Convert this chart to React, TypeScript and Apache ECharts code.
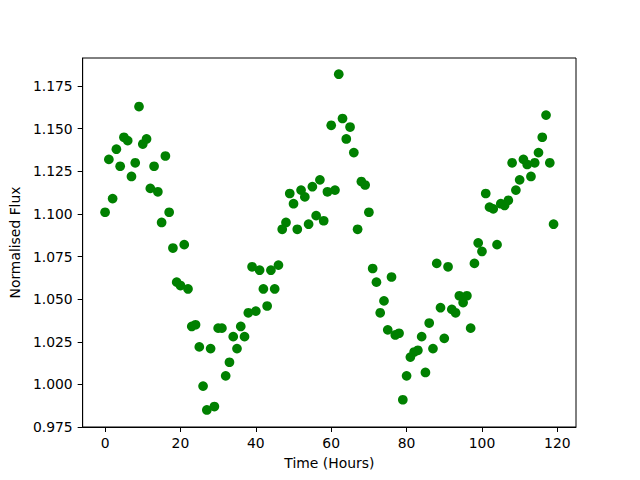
import React, { useEffect, useRef } from "react";
import * as echarts from "echarts";

const hours: number[] = Array.from({ length: 120 }, (_, i) => i);
const flux: number[] = [
  1.101, 1.132, 1.109, 1.138, 1.128, 1.145, 1.143, 1.122, 1.130, 1.163,
  1.141, 1.144, 1.115, 1.128, 1.113, 1.095, 1.134, 1.101, 1.080, 1.060,
  1.058, 1.082, 1.056, 1.034, 1.035, 1.022, 0.999, 0.985, 1.021, 0.987,
  1.033, 1.033, 1.005, 1.013, 1.028, 1.021, 1.034, 1.028, 1.042, 1.069,
  1.043, 1.067, 1.056, 1.046, 1.067, 1.056, 1.070, 1.091, 1.095, 1.112,
  1.106, 1.091, 1.114, 1.110, 1.094, 1.116, 1.099, 1.120, 1.096, 1.113,
  1.152, 1.114, 1.182, 1.156, 1.144, 1.151, 1.136, 1.091, 1.119, 1.117,
  1.101, 1.068, 1.060, 1.042, 1.049, 1.032, 1.063, 1.029, 1.030, 0.991,
  1.005, 1.016, 1.019, 1.020, 1.028, 1.007, 1.036, 1.021, 1.071, 1.045,
  1.027, 1.069, 1.044, 1.042, 1.052, 1.048, 1.052, 1.033, 1.071, 1.083,
  1.078, 1.112, 1.104, 1.103, 1.082, 1.106, 1.105, 1.108, 1.130, 1.114,
  1.120, 1.132, 1.129, 1.122, 1.130, 1.136, 1.145, 1.158, 1.130, 1.094,
];
const xTicks: number[] = [0, 20, 40, 60, 80, 100, 120];
const yTicks: number[] = [0.975, 1.0, 1.025, 1.05, 1.075, 1.1, 1.125, 1.15, 1.175];

const FONT = "DejaVu Sans";
const FS = 13.9;

export default function App() {
  const ref = useRef<HTMLDivElement>(null);
  useEffect(() => {
    if (!ref.current) return;
    const chart = echarts.init(ref.current, null, { renderer: "svg" });
    const data = hours.map((h, i) => [h, flux[i]]);
    chart.setOption({
      animation: false,
      backgroundColor: "#ffffff",
      textStyle: { fontFamily: FONT },
      grid: {
        left: 80,
        right: 64,
        top: 58,
        bottom: 53,
        show: true,
        borderColor: "#000000",
        borderWidth: 1,
        backgroundColor: "transparent",
      },
      xAxis: {
        type: "value",
        min: -5.95,
        max: 124.95,
        name: "Time (Hours)",
        nameLocation: "middle",
        nameGap: 29,
        nameTextStyle: { fontFamily: FONT, fontSize: FS, color: "#000" },
        splitLine: { show: false },
        axisLine: { show: true, onZero: false, lineStyle: { color: "#000", width: 1 } },
        axisTick: {
          show: true,
          length: 5,
          inside: false,
          customValues: xTicks,
          lineStyle: { color: "#000", width: 1 },
        },
        axisLabel: {
          customValues: xTicks,
          margin: 9,
          fontFamily: FONT,
          fontSize: FS,
          color: "#000",
          formatter: (v: number) => String(v),
        },
      },
      yAxis: {
        type: "value",
        min: 0.975,
        max: 1.1915,
        name: "Normalised Flux",
        nameLocation: "middle",
        nameGap: 54,
        nameTextStyle: { fontFamily: FONT, fontSize: FS, color: "#000" },
        splitLine: { show: false },
        axisLine: { show: true, onZero: false, lineStyle: { color: "#000", width: 1 } },
        axisTick: {
          show: true,
          length: 5,
          inside: false,
          customValues: yTicks,
          lineStyle: { color: "#000", width: 1 },
        },
        axisLabel: {
          customValues: yTicks,
          margin: 10,
          fontFamily: FONT,
          fontSize: FS,
          color: "#000",
          formatter: (v: number) => v.toFixed(3),
        },
      },
      series: [
        {
          type: "scatter",
          data,
          symbol: "circle",
          symbolSize: 9.7,
          itemStyle: { color: "#008000", opacity: 1 },
        },
      ],
    });
    return () => chart.dispose();
  }, []);
  return (
    <div
      ref={ref}
      style={{ position: "absolute", left: 0, top: 0, width: 640, height: 480, background: "#fff" }}
    />
  );
}
